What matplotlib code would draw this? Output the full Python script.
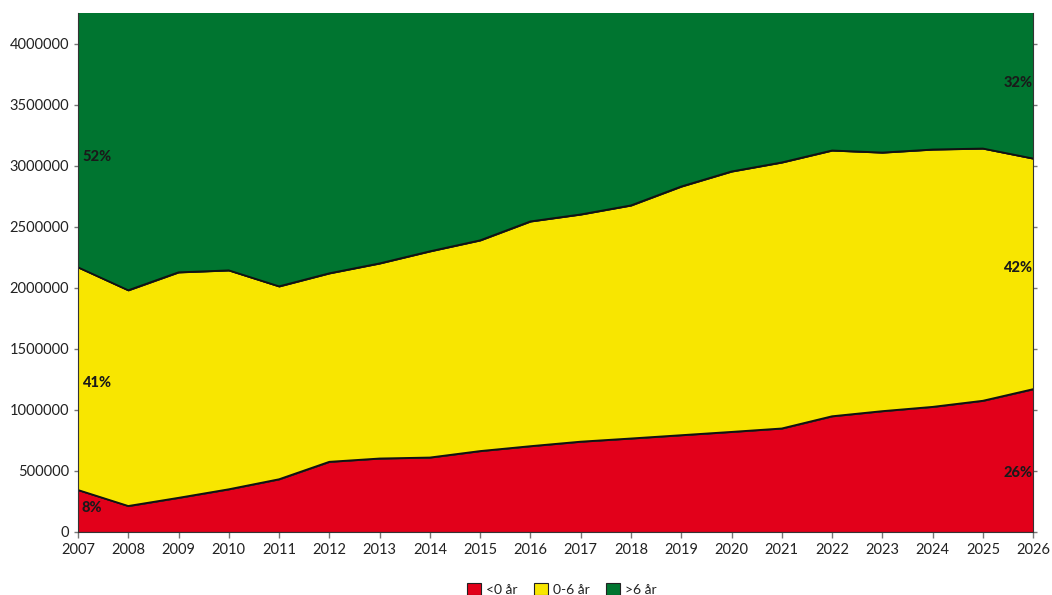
import numpy as np
import matplotlib.pyplot as plt
from matplotlib.ticker import FuncFormatter

plt.rcParams['font.family'] = ['Lato', 'DejaVu Sans']

years = list(range(2007, 2027))
under_0 = [344000, 213000, 280000, 350000, 432000, 575000, 602000, 610000, 663000, 703000,
           740000, 766000, 793000, 820000, 848000, 948000, 990000, 1025000, 1075000, 1170000]
age_0_6 = [1824000, 1767000, 1847000, 1793000, 1580000, 1544000, 1598000, 1689000, 1726000, 1841000,
           1861000, 1909000, 2037000, 2133000, 2179000, 2177000, 2118000, 2108000, 2066000, 1889000]
over_6 = [2330000, 2520000, 2373000, 2357000, 2488000, 2381000, 2300000, 2201000, 2111000, 1956000,
          1899000, 1825000, 1670000, 1547000, 1473000, 1375000, 1392000, 1367000, 1359000, 1440000]
labels = ['<0 år', '0-6 år', '>6 år']
colors = ['#E2001A', '#F8E600', '#007530']

fig = plt.figure(figsize=(10.52, 5.95), dpi=100)
ax = fig.add_axes([0.0741, 0.1059, 0.908, 0.872])

ax.stackplot(years, under_0, age_0_6, over_6, colors=colors, labels=labels, linewidth=0)

# outline the boundaries between the bands
x = np.array(years)
cum1 = np.array(under_0)
cum2 = cum1 + np.array(age_0_6)
ax.plot(x, cum1, color='#111111', lw=1.3)
ax.plot(x, cum2, color='#111111', lw=1.3)

ax.set_xlim(2007, 2026)
ax.set_ylim(0, 4250000)
ax.set_xticks(years)
ax.set_yticks(range(0, 4000001, 500000))
ax.yaxis.set_major_formatter(FuncFormatter(lambda v, pos: f'{v:.0f}'))
ax.tick_params(axis='both', labelsize=10.5, colors='#777777', labelcolor='#222222',
               length=4, width=1, direction='out')
ax.tick_params(axis='y', right=True, length=3)
ax.tick_params(axis='x', pad=4)
for side in ['left', 'bottom']:
    ax.spines[side].set_color('#333333')
ax.spines['right'].set_color('#333333')
ax.spines['top'].set_visible(False)

# share of each group at the first and last year
tot_first = under_0[0] + age_0_6[0] + over_6[0]
tot_last = under_0[-1] + age_0_6[-1] + over_6[-1]
lab_kw = dict(fontsize=10.5, fontweight='black', color='#1a1a1a', va='center')
ax.text(2007.08, 196000, f'{under_0[0] / tot_first:.0%}', ha='left', **lab_kw)
ax.text(2007.08, 1220000, f'{age_0_6[0] / tot_first:.0%}', ha='left', **lab_kw)
ax.text(2007.08, 3070000, f'{over_6[0] / tot_first:.0%}', ha='left', **lab_kw)
ax.text(2025.98, 483000, f'{under_0[-1] / tot_last:.0%}', ha='right', **lab_kw)
ax.text(2025.98, 2160000, f'{age_0_6[-1] / tot_last:.0%}', ha='right', **lab_kw)
ax.text(2025.98, 3680000, f'{over_6[-1] / tot_last:.0%}', ha='right', **lab_kw)

handles, _ = ax.get_legend_handles_labels()
for h in handles:
    h.set_edgecolor('#222222')
    h.set_linewidth(0.8)
leg = fig.legend(handles, labels, loc='center', bbox_to_anchor=(0.534, 0.01), ncol=3,
                 frameon=False, fontsize=10, handlelength=1.0, handleheight=1.0,
                 handletextpad=0.35, columnspacing=1.2)
for t in leg.get_texts():
    t.set_color('#222222')

fig.savefig('out.png', dpi=100)
